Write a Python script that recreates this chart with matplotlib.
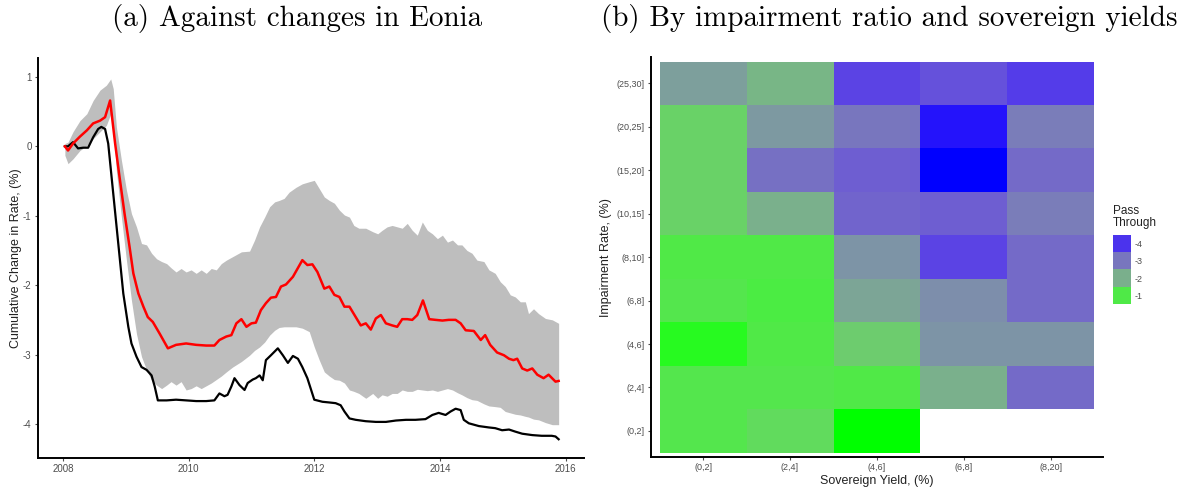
import numpy as np
import matplotlib
matplotlib.use("Agg")
import matplotlib.pyplot as plt
from matplotlib.colors import ListedColormap, Normalize

plt.rcParams['font.family'] = ['Liberation Sans', 'DejaVu Sans']
plt.rcParams['axes.unicode_minus'] = False

# ---- panel (a): cumulative change in rate ----
years_band = [2008.03, 2008.08, 2008.16, 2008.27, 2008.38, 2008.48, 2008.59, 2008.69, 2008.76, 2008.80,
              2008.85, 2008.93, 2009.01, 2009.09, 2009.17, 2009.25, 2009.33, 2009.41, 2009.49, 2009.57,
              2009.65, 2009.72, 2009.80, 2009.88, 2009.96, 2010.04, 2010.12, 2010.20, 2010.28, 2010.36,
              2010.44, 2010.52, 2010.60, 2010.70, 2010.84, 2010.97, 2011.05, 2011.13, 2011.21, 2011.29,
              2011.37, 2011.44, 2011.52, 2011.60, 2011.71, 2011.81, 2011.92, 2012.00, 2012.08, 2012.16,
              2012.24, 2012.32, 2012.40, 2012.48, 2012.56, 2012.63, 2012.71, 2012.82, 2012.93, 2013.01,
              2013.08, 2013.16, 2013.24, 2013.32, 2013.40, 2013.48, 2013.56, 2013.64, 2013.72, 2013.80,
              2013.88, 2013.96, 2014.04, 2014.12, 2014.20, 2014.28, 2014.35, 2014.43, 2014.51, 2014.59,
              2014.70, 2014.78, 2014.88, 2014.96, 2015.04, 2015.12, 2015.20, 2015.28, 2015.36, 2015.41,
              2015.49, 2015.57, 2015.68, 2015.79, 2015.89]
band_upper = [0.04, 0.06, 0.21, 0.37, 0.47, 0.66, 0.81, 0.88, 0.97, 0.83,
              0.28, -0.20, -0.63, -0.97, -1.16, -1.40, -1.42, -1.54, -1.62, -1.66,
              -1.69, -1.75, -1.81, -1.76, -1.81, -1.78, -1.83, -1.78, -1.83, -1.76,
              -1.78, -1.69, -1.64, -1.59, -1.52, -1.51, -1.35, -1.16, -1.02, -0.87,
              -0.80, -0.78, -0.75, -0.66, -0.59, -0.54, -0.51, -0.49, -0.61, -0.73,
              -0.78, -0.82, -0.92, -0.99, -1.02, -1.14, -1.18, -1.18, -1.23, -1.26,
              -1.21, -1.16, -1.14, -1.16, -1.18, -1.11, -1.21, -1.28, -1.09, -1.21,
              -1.26, -1.33, -1.28, -1.38, -1.35, -1.42, -1.42, -1.50, -1.54, -1.64,
              -1.66, -1.78, -1.83, -1.95, -2.02, -2.14, -2.17, -2.24, -2.24, -2.41,
              -2.34, -2.41, -2.48, -2.50, -2.55]
band_lower = [-0.13, -0.25, -0.18, -0.06, 0.01, 0.11, 0.21, 0.30, 0.47, 0.28,
              -0.35, -1.02, -1.64, -2.22, -2.70, -3.03, -3.22, -3.37, -3.44, -3.49,
              -3.44, -3.39, -3.44, -3.39, -3.51, -3.49, -3.45, -3.49, -3.45, -3.41,
              -3.36, -3.31, -3.25, -3.18, -3.10, -3.01, -2.94, -2.89, -2.82, -2.72,
              -2.65, -2.61, -2.60, -2.60, -2.60, -2.62, -2.67, -2.89, -3.08, -3.25,
              -3.31, -3.36, -3.37, -3.41, -3.51, -3.53, -3.56, -3.63, -3.56, -3.63,
              -3.58, -3.60, -3.56, -3.56, -3.51, -3.53, -3.53, -3.50, -3.51, -3.52,
              -3.51, -3.53, -3.51, -3.49, -3.51, -3.55, -3.58, -3.62, -3.65, -3.66,
              -3.71, -3.74, -3.75, -3.76, -3.82, -3.84, -3.86, -3.87, -3.89, -3.90,
              -3.93, -3.94, -3.98, -4.01, -4.01]

years_red = [2008.03, 2008.08, 2008.16, 2008.27, 2008.38, 2008.48, 2008.59, 2008.67, 2008.75, 2008.83,
             2008.90, 2008.98, 2009.06, 2009.12, 2009.20, 2009.28, 2009.35, 2009.43, 2009.54, 2009.67,
             2009.80, 2009.96, 2010.12, 2010.28, 2010.41, 2010.49, 2010.60, 2010.68, 2010.76, 2010.84,
             2010.92, 2011.00, 2011.07, 2011.15, 2011.23, 2011.31, 2011.39, 2011.47, 2011.55, 2011.66,
             2011.81, 2011.89, 2011.97, 2012.05, 2012.16, 2012.24, 2012.32, 2012.40, 2012.48, 2012.56,
             2012.66, 2012.74, 2012.82, 2012.90, 2012.98, 2013.06, 2013.14, 2013.24, 2013.32, 2013.40,
             2013.48, 2013.56, 2013.64, 2013.73, 2013.83, 2013.93, 2014.04, 2014.14, 2014.25, 2014.33,
             2014.41, 2014.54, 2014.65, 2014.72, 2014.80, 2014.91, 2015.02, 2015.10, 2015.17, 2015.23,
             2015.31, 2015.39, 2015.47, 2015.55, 2015.65, 2015.73, 2015.84, 2015.89]
red_values = [0.00, -0.06, 0.04, 0.14, 0.23, 0.33, 0.37, 0.42, 0.66, 0.04,
              -0.44, -0.97, -1.45, -1.83, -2.12, -2.31, -2.46, -2.53, -2.70, -2.91,
              -2.86, -2.84, -2.86, -2.87, -2.87, -2.79, -2.74, -2.72, -2.55, -2.49,
              -2.60, -2.55, -2.54, -2.36, -2.26, -2.18, -2.17, -2.02, -1.99, -1.88,
              -1.64, -1.71, -1.70, -1.81, -2.05, -2.02, -2.14, -2.17, -2.31, -2.31,
              -2.46, -2.58, -2.55, -2.64, -2.48, -2.43, -2.55, -2.58, -2.60, -2.49,
              -2.49, -2.50, -2.43, -2.22, -2.49, -2.50, -2.51, -2.50, -2.50, -2.55,
              -2.65, -2.66, -2.79, -2.72, -2.86, -2.97, -3.01, -3.06, -3.08, -3.06,
              -3.20, -3.23, -3.20, -3.29, -3.34, -3.29, -3.39, -3.38]

years_black = [2008.03, 2008.08, 2008.16, 2008.24, 2008.32, 2008.40, 2008.48, 2008.56, 2008.61, 2008.67,
               2008.72, 2008.80, 2008.88, 2008.96, 2009.04, 2009.09, 2009.17, 2009.25, 2009.33, 2009.41,
               2009.46, 2009.51, 2009.65, 2009.80, 2009.96, 2010.12, 2010.28, 2010.41, 2010.49, 2010.57,
               2010.62, 2010.68, 2010.73, 2010.81, 2010.89, 2010.94, 2011.02, 2011.07, 2011.13, 2011.18,
               2011.23, 2011.31, 2011.42, 2011.50, 2011.58, 2011.66, 2011.74, 2011.81, 2011.89, 2012.00,
               2012.13, 2012.24, 2012.34, 2012.42, 2012.48, 2012.56, 2012.66, 2012.82, 2012.98, 2013.14,
               2013.30, 2013.46, 2013.61, 2013.77, 2013.88, 2013.98, 2014.09, 2014.17, 2014.25, 2014.33,
               2014.38, 2014.46, 2014.62, 2014.78, 2014.88, 2014.99, 2015.10, 2015.20, 2015.31, 2015.47,
               2015.62, 2015.78, 2015.84, 2015.89]
black_values = [0.00, 0.00, 0.06, -0.03, -0.02, -0.02, 0.13, 0.25, 0.28, 0.25,
                0.04, -0.68, -1.40, -2.12, -2.60, -2.84, -3.03, -3.18, -3.22, -3.30,
                -3.46, -3.66, -3.66, -3.65, -3.66, -3.67, -3.67, -3.66, -3.56, -3.60,
                -3.58, -3.46, -3.34, -3.44, -3.51, -3.41, -3.36, -3.34, -3.30, -3.37,
                -3.08, -3.01, -2.91, -3.01, -3.12, -3.02, -3.06, -3.18, -3.34, -3.65,
                -3.68, -3.69, -3.70, -3.73, -3.82, -3.92, -3.94, -3.96, -3.97, -3.97,
                -3.95, -3.94, -3.94, -3.93, -3.87, -3.84, -3.87, -3.82, -3.78, -3.80,
                -3.94, -3.99, -4.03, -4.05, -4.06, -4.09, -4.08, -4.11, -4.14, -4.16,
                -4.17, -4.17, -4.18, -4.22]

# ---- panel (b): pass-through by impairment ratio and sovereign yield ----
yield_bins = ["(0,2]", "(2,4]", "(4,6]", "(6,8]", "(8,20]"]
impair_bins = ["(0,2]", "(2,4]", "(4,6]", "(6,8]", "(8,10]", "(10,15]", "(15,20]", "(20,25]", "(25,30]"]
# rows follow impair_bins (bottom to top), columns follow yield_bins
pass_through = [
    [-1.05, -1.25, -0.60, np.nan, np.nan],
    [-1.05, -1.05, -1.00, -2.00, -3.20],
    [-0.70, -1.00, -1.50, -2.50, -2.50],
    [-1.05, -0.95, -2.20, -2.60, -3.20],
    [-1.00, -1.00, -2.50, -3.80, -3.20],
    [-1.40, -2.00, -3.30, -3.40, -2.90],
    [-1.40, -3.10, -3.40, -4.40, -3.20],
    [-1.40, -2.40, -3.00, -4.30, -2.90],
    [-2.30, -1.90, -3.80, -3.60, -3.90],
]
legend_breaks = [-4, -3, -2, -1]


# blue -> green gradient interpolated in CIE Lab (like ggplot's scale_fill_gradient)
def srgb_to_lab(rgb):
    c = np.asarray(rgb, float)
    c = np.where(c <= 0.04045, c / 12.92, ((c + 0.055) / 1.055) ** 2.4)
    m = np.array([[0.4124, 0.3576, 0.1805], [0.2126, 0.7152, 0.0722], [0.0193, 0.1192, 0.9505]])
    xyz = m @ c / np.array([0.95047, 1.0, 1.08883])
    f = np.where(xyz > 0.008856, np.cbrt(xyz), 7.787 * xyz + 16 / 116)
    return np.array([116 * f[1] - 16, 500 * (f[0] - f[1]), 200 * (f[1] - f[2])])


def lab_to_srgb(lab):
    L, a, b = lab
    fy = (L + 16) / 116
    f = np.array([fy + a / 500, fy, fy - b / 200])
    xyz = np.where(f ** 3 > 0.008856, f ** 3, (f - 16 / 116) / 7.787) * np.array([0.95047, 1.0, 1.08883])
    m = np.array([[3.2406, -1.5372, -0.4986], [-0.9689, 1.8758, 0.0415], [0.0557, -0.2040, 1.0570]])
    c = m @ xyz
    c = np.where(c <= 0.0031308, 12.92 * c, 1.055 * np.clip(c, 0, None) ** (1 / 2.4) - 0.055)
    return np.clip(c, 0, 1)


lab_lo = srgb_to_lab([0, 0, 1])
lab_hi = srgb_to_lab([0, 1, 0])
cmap = ListedColormap([lab_to_srgb(lab_lo + t * (lab_hi - lab_lo)) for t in np.linspace(0, 1, 256)])
vals = np.array(pass_through)
norm = Normalize(vmin=np.nanmin(vals), vmax=np.nanmax(vals))

fig = plt.figure(figsize=(11.83, 4.9), dpi=100)

tick_col = "#4d4d4d"
lab_col = "#222222"
title_font = dict(family="cmr10", fontsize=21)

# ---------------- (a) ----------------
ax = fig.add_axes([0.032, 0.0653, 0.462, 0.816])
ax.fill_between(years_band, band_lower, band_upper, color="#bebebe", linewidth=0)
ax.plot(years_black, black_values, color="black", linewidth=1.6)
ax.plot(years_red, red_values, color="#ff0000", linewidth=1.8)
ax.set_xlim(2007.6, 2016.3)
ax.set_ylim(-4.49, 1.27)
ax.set_xticks([2008, 2010, 2012, 2014, 2016])
ax.set_yticks([-4, -3, -2, -1, 0, 1])
ax.set_ylabel("Cumulative Change in Rate, (%)", fontsize=9, color=lab_col, labelpad=1)
for s in ["top", "right"]:
    ax.spines[s].set_visible(False)
for s in ["left", "bottom"]:
    ax.spines[s].set_linewidth(1.4)
ax.tick_params(labelsize=7, colors=tick_col, length=2.5, width=0.8, pad=2)
fig.text(0.251, 0.963, "(a) Against changes in Eonia", ha="center", va="center", **title_font)

# ---------------- (b) ----------------
bx = fig.add_axes([0.5503, 0.0673, 0.382, 0.816])
xe = np.arange(len(yield_bins) + 1) - 0.5
ye = np.arange(len(impair_bins) + 1) - 0.5
bx.pcolormesh(xe, ye, np.ma.masked_invalid(vals), cmap=cmap, norm=norm)
bx.set_xlim(-0.6, len(yield_bins) - 0.4)
bx.set_ylim(-0.6, len(impair_bins) - 0.4)
bx.set_xticks(range(len(yield_bins)))
bx.set_xticklabels(yield_bins)
bx.set_yticks(range(len(impair_bins)))
bx.set_yticklabels(impair_bins)
bx.set_xlabel("Sovereign Yield, (%)", fontsize=9, color=lab_col, labelpad=2)
bx.set_ylabel("Impairment Rate, (%)", fontsize=9, color=lab_col, labelpad=3)
for s in ["top", "right"]:
    bx.spines[s].set_visible(False)
for s in ["left", "bottom"]:
    bx.spines[s].set_linewidth(1.4)
bx.tick_params(labelsize=6.5, colors=tick_col, length=2.5, width=0.8, pad=2)
fig.text(0.752, 0.963, "(b) By impairment ratio and sovereign yields", ha="center", va="center", **title_font)

# legend keys
lx = fig.add_axes([0.9405, 0.3796, 0.0152, 0.1408])
lx.imshow(np.array(legend_breaks, float).reshape(-1, 1), cmap=cmap, norm=norm, aspect="auto")
lx.set_xticks([])
lx.yaxis.tick_right()
lx.set_yticks(range(len(legend_breaks)))
lx.set_yticklabels([str(b) for b in legend_breaks])
lx.tick_params(length=0, labelsize=6.5, colors=tick_col, pad=3)
for s in lx.spines.values():
    s.set_visible(False)
fig.text(0.9405, 0.533, "Pass\nThrough", ha="left", va="bottom", fontsize=8.5, color=lab_col, linespacing=1.0)

plt.savefig("out.png", dpi=100)
